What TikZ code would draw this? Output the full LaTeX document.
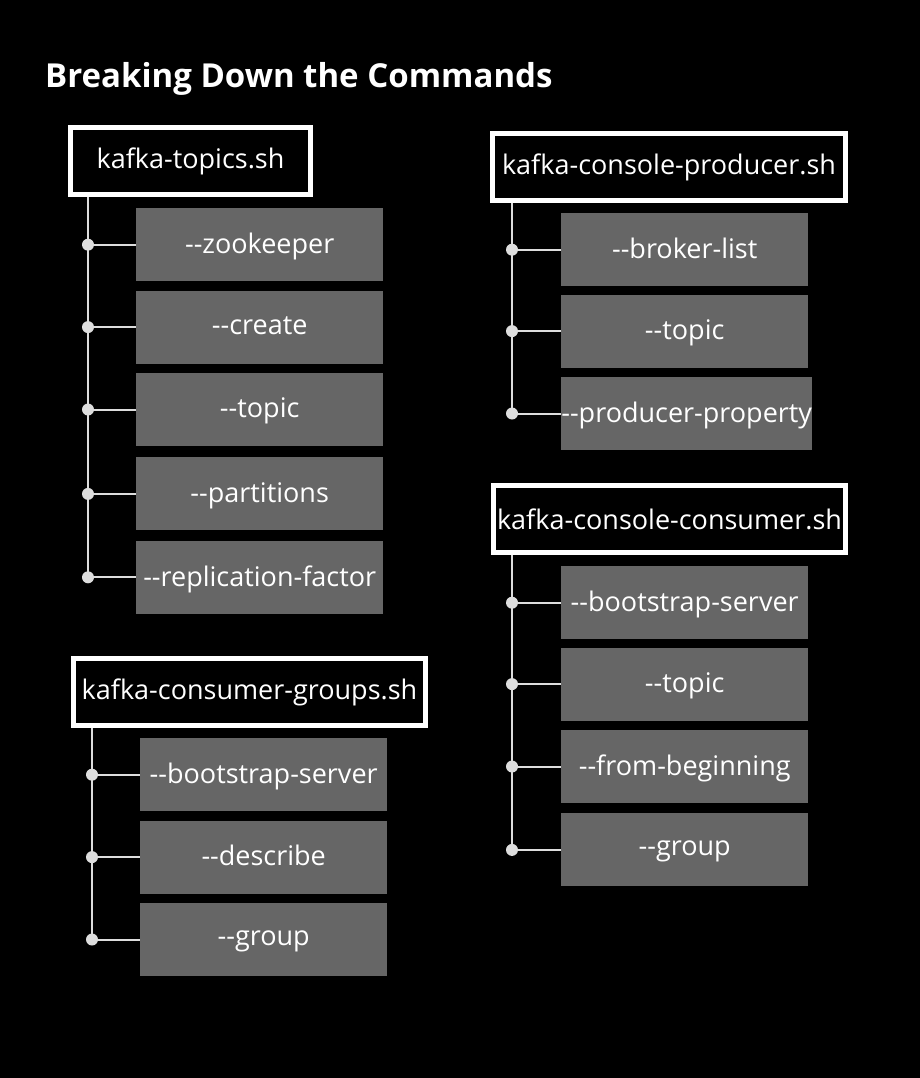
\documentclass[tikz,border=0pt]{standalone}
\usepackage{fontspec}
\setmainfont{Open Sans}
\usepackage{tikz}
\usetikzlibrary{positioning,calc}

\definecolor{optgray}{HTML}{666666}
\definecolor{linegray}{HTML}{DDDDDD}
\newcommand{\dd}{-\kern0pt-}

\tikzset{
  cmd/.style={draw=white,line width=5pt,fill=black,text=white,font=\fontsize{27}{31}\selectfont,minimum height=67pt,inner sep=3pt},
  opt/.style={fill=optgray,text=white,font=\fontsize{27}{31}\selectfont,minimum width=247pt,minimum height=73pt,inner sep=0pt,text depth=3pt},
  branch/.style={draw=linegray,line width=2pt},
  knot/.style={circle,fill=linegray,inner sep=0pt,minimum size=12pt}
}

\begin{document}
\begin{tikzpicture}[x=1pt,y=-1pt]
\useasboundingbox[fill=black] (0,0) rectangle (920,1078);
\node[anchor=base west,inner sep=0pt,text=white,font=\bfseries\fontsize{33}{38}\selectfont] (title) at (45,88) {Breaking Down the Commands};
% kafka-topics.sh
\node[cmd,minimum width=240pt,anchor=north west] (tp) at (68,125) {kafka-topics.sh};
\node[opt,anchor=north west] (tp1) at ([xshift=68pt,yshift=-11pt]tp.south west) {\dd zookeeper};
\node[opt,below=9pt of tp1] (tp2) {\dd create};
\node[opt,below=9pt of tp2] (tp3) {\dd topic};
\node[opt,below=11pt of tp3] (tp4) {\dd partitions};
\node[opt,below=10pt of tp4] (tp5) {\dd replication-factor};
\coordinate (tps) at ([xshift=20pt]tp.south west);
\draw[branch] (tps) -- (tps |- tp5.west);
\draw[branch] (tps |- tp1.west) node[knot] (tpk1) {} -- (tp1.west);
\draw[branch] (tps |- tp2.west) node[knot] (tpk2) {} -- (tp2.west);
\draw[branch] (tps |- tp3.west) node[knot] (tpk3) {} -- (tp3.west);
\draw[branch] (tps |- tp4.west) node[knot] (tpk4) {} -- (tp4.west);
\draw[branch] (tps |- tp5.west) node[knot] (tpk5) {} -- (tp5.west);
% kafka-console-producer.sh
\node[cmd,minimum width=353pt,anchor=north west] (pr) at (490,131) {kafka-console-producer.sh};
\node[opt,anchor=north west] (pr1) at ([xshift=71pt,yshift=-10pt]pr.south west) {\dd broker-list};
\node[opt,below=8pt of pr1] (pr2) {\dd topic};
\node[opt,below=9pt of pr2,xshift=2pt] (pr3) {\dd producer-property};
\coordinate (prs) at ([xshift=22pt]pr.south west);
\draw[branch] (prs) -- (prs |- pr3.west);
\draw[branch] (prs |- pr1.west) node[knot] (prk1) {} -- (pr1.west);
\draw[branch] (prs |- pr2.west) node[knot] (prk2) {} -- (pr2.west);
\draw[branch] (prs |- pr3.west) node[knot] (prk3) {} -- (pr3.west);
% kafka-console-consumer.sh
\node[cmd,minimum width=352pt,anchor=north west] (cc) at (491,483) {kafka-console-consumer.sh};
\node[opt,anchor=north west] (cc1) at ([xshift=70pt,yshift=-11pt]cc.south west) {\dd bootstrap-server};
\node[opt,below=8pt of cc1] (cc2) {\dd topic};
\node[opt,below=9pt of cc2] (cc3) {\dd from-beginning};
\node[opt,below=10pt of cc3] (cc4) {\dd group};
\coordinate (ccs) at ([xshift=21pt]cc.south west);
\draw[branch] (ccs) -- (ccs |- cc4.west);
\draw[branch] (ccs |- cc1.west) node[knot] (cck1) {} -- (cc1.west);
\draw[branch] (ccs |- cc2.west) node[knot] (cck2) {} -- (cc2.west);
\draw[branch] (ccs |- cc3.west) node[knot] (cck3) {} -- (cc3.west);
\draw[branch] (ccs |- cc4.west) node[knot] (cck4) {} -- (cc4.west);
% kafka-consumer-groups.sh
\node[cmd,minimum width=352pt,anchor=north west] (cg) at (71,656) {kafka-consumer-groups.sh};
\node[opt,anchor=north west] (cg1) at ([xshift=69pt,yshift=-10pt]cg.south west) {\dd bootstrap-server};
\node[opt,below=9pt of cg1] (cg2) {\dd describe};
\node[opt,below=9pt of cg2] (cg3) {\dd group};
\coordinate (cgs) at ([xshift=21pt]cg.south west);
\draw[branch] (cgs) -- (cgs |- cg3.west);
\draw[branch] (cgs |- cg1.west) node[knot] (cgk1) {} -- (cg1.west);
\draw[branch] (cgs |- cg2.west) node[knot] (cgk2) {} -- (cg2.west);
\draw[branch] (cgs |- cg3.west) node[knot] (cgk3) {} -- (cg3.west);
\end{tikzpicture}
\end{document}
